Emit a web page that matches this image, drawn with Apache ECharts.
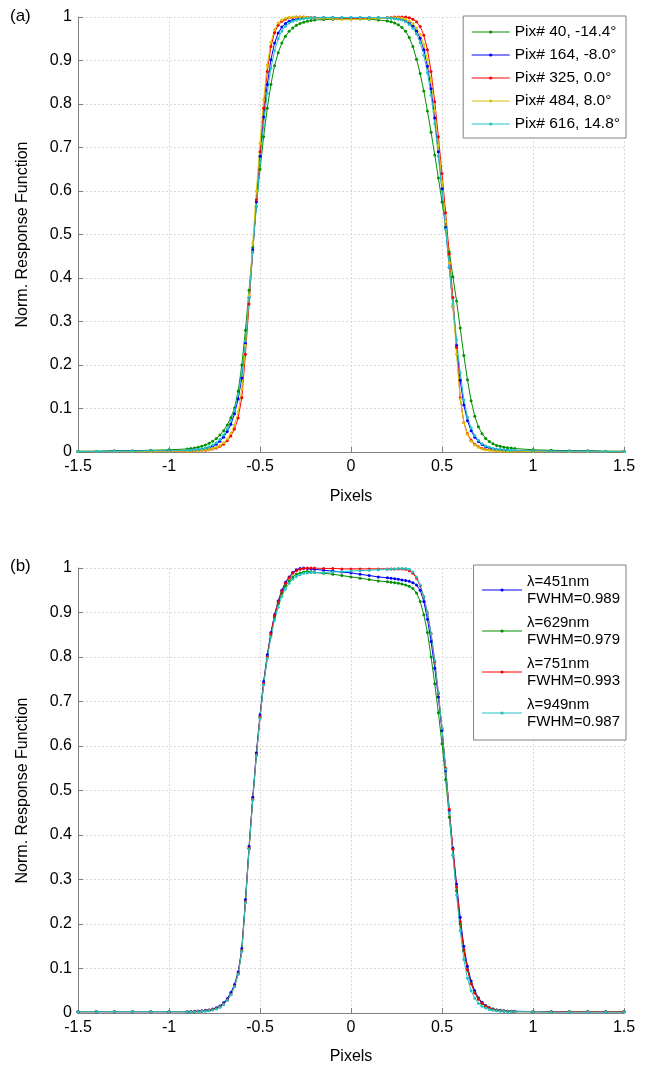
<!DOCTYPE html>
<html><head><meta charset="utf-8">
<script src="https://cdn.jsdelivr.net/npm/echarts@6/dist/echarts.min.js"></script>
<style>html,body{margin:0;padding:0;background:#fff}#c{width:646px;height:1066px}</style>
</head><body><div id="c"></div>
<script>
// x sample positions (pixels)
const xs = [-1.5,-1.4,-1.3,-1.2,-1.1,-1.0,-0.9,
 -0.88,-0.86,-0.84,-0.82,-0.80,-0.78,-0.76,-0.74,-0.72,-0.70,-0.68,-0.66,-0.64,-0.62,-0.60,-0.58,-0.56,-0.54,-0.52,-0.50,-0.48,-0.46,-0.44,-0.42,-0.40,-0.38,-0.36,-0.34,-0.32,-0.30,-0.28,-0.26,-0.24,-0.22,-0.20,
 -0.15,-0.10,-0.05,0,0.05,0.10,0.15,
 0.20,0.22,0.24,0.26,0.28,0.30,0.32,0.34,0.36,0.38,0.40,0.42,0.44,0.46,0.48,0.50,0.52,0.54,0.56,0.58,0.60,0.62,0.64,0.66,0.68,0.70,0.72,0.74,0.76,0.78,0.80,0.82,0.84,0.86,0.88,
 0.9,1.0,1.1,1.2,1.3,1.4,1.5];

// panel (a)
const aNames = ['Pix# 40, -14.4°','Pix# 164, -8.0°','Pix# 325, 0.0°','Pix# 484, 8.0°','Pix# 616, 14.8°'];
const aPix40 = [0.002,0.002,0.003,0.003,0.004,0.005,0.007,
 0.008,0.009,0.011,0.013,0.016,0.020,0.025,0.031,0.039,0.049,0.062,0.079,0.101,0.140,0.200,0.280,0.372,0.470,0.565,0.650,0.725,0.790,0.845,0.888,0.918,0.940,0.956,0.967,0.975,0.981,0.985,0.988,0.990,0.992,0.993,
 0.994,0.995,0.996,0.996,0.996,0.995,0.993,
 0.991,0.989,0.986,0.982,0.976,0.967,0.953,0.932,0.903,0.870,0.830,0.784,0.735,0.683,0.630,0.575,0.518,0.460,0.403,0.347,0.285,0.222,0.166,0.118,0.082,0.058,0.042,0.031,0.024,0.019,0.015,0.013,0.011,0.010,0.009,
 0.008,0.005,0.004,0.003,0.003,0.002,0.002];
const aPix164 = [0.001,0.001,0.002,0.002,0.002,0.003,0.003,
 0.004,0.004,0.005,0.006,0.008,0.010,0.013,0.018,0.025,0.034,0.047,0.064,0.088,0.122,0.170,0.250,0.355,0.465,0.575,0.680,0.770,0.845,0.902,0.940,0.963,0.977,0.985,0.990,0.993,0.995,0.997,0.998,0.999,0.999,0.999,
 0.999,0.999,0.998,0.998,0.998,0.998,0.998,
 0.998,0.998,0.997,0.996,0.994,0.991,0.986,0.979,0.968,0.951,0.925,0.887,0.835,0.768,0.690,0.605,0.515,0.425,0.335,0.245,0.165,0.108,0.072,0.049,0.034,0.024,0.017,0.012,0.009,0.007,0.006,0.005,0.004,0.004,0.003,
 0.003,0.002,0.002,0.002,0.002,0.001,0.001];
const aPix325 = [0.001,0.001,0.001,0.001,0.001,0.002,0.002,
 0.002,0.003,0.003,0.004,0.004,0.005,0.007,0.009,0.013,0.018,0.026,0.037,0.053,0.078,0.125,0.225,0.340,0.460,0.580,0.690,0.790,0.875,0.932,0.964,0.981,0.990,0.995,0.998,0.999,1.000,1.000,1.000,0.999,0.999,0.998,
 0.997,0.996,0.996,0.996,0.996,0.997,0.998,
 0.999,0.999,1.000,1.000,1.000,1.000,0.998,0.995,0.989,0.978,0.958,0.925,0.875,0.805,0.725,0.640,0.550,0.455,0.355,0.240,0.125,0.068,0.042,0.027,0.018,0.012,0.008,0.006,0.005,0.004,0.003,0.003,0.002,0.002,0.002,
 0.002,0.002,0.001,0.001,0.001,0.001,0.001];
const aPix484 = [0.001,0.001,0.001,0.001,0.001,0.002,0.002,
 0.002,0.003,0.003,0.004,0.005,0.006,0.008,0.011,0.015,0.021,0.030,0.043,0.062,0.092,0.145,0.245,0.360,0.480,0.600,0.710,0.810,0.890,0.942,0.971,0.986,0.993,0.997,0.999,1.000,1.000,1.000,1.000,0.999,0.999,0.998,
 0.997,0.996,0.995,0.995,0.995,0.996,0.997,
 0.998,0.998,0.998,0.998,0.997,0.995,0.991,0.985,0.975,0.960,0.937,0.902,0.852,0.785,0.705,0.620,0.530,0.435,0.335,0.225,0.122,0.068,0.040,0.025,0.016,0.011,0.007,0.005,0.004,0.003,0.003,0.002,0.002,0.002,0.002,
 0.002,0.001,0.001,0.001,0.001,0.001,0.001];
const aPix616 = [0.001,0.001,0.002,0.002,0.003,0.003,0.004,
 0.004,0.005,0.006,0.007,0.009,0.012,0.016,0.021,0.029,0.039,0.053,0.072,0.097,0.132,0.180,0.255,0.355,0.460,0.565,0.665,0.752,0.825,0.882,0.923,0.950,0.968,0.979,0.986,0.990,0.993,0.995,0.996,0.997,0.998,0.998,
 0.999,0.999,0.999,0.999,0.999,0.999,0.999,
 0.998,0.997,0.996,0.995,0.993,0.989,0.983,0.974,0.961,0.941,0.912,0.872,0.820,0.755,0.680,0.598,0.512,0.425,0.340,0.258,0.183,0.120,0.080,0.055,0.038,0.027,0.019,0.014,0.011,0.008,0.007,0.006,0.005,0.004,0.004,
 0.004,0.003,0.002,0.002,0.002,0.001,0.001];

// panel (b)
const bNames = ['λ=451nm\nFWHM=0.989','λ=629nm\nFWHM=0.979','λ=751nm\nFWHM=0.993','λ=949nm\nFWHM=0.987'];
const b451 = [0.003,0.003,0.003,0.003,0.003,0.003,0.003,
 0.003,0.004,0.004,0.005,0.006,0.007,0.009,0.012,0.016,0.023,0.032,0.046,0.064,0.092,0.145,0.255,0.375,0.485,0.585,0.670,0.745,0.805,0.855,0.895,0.926,0.950,0.968,0.980,0.990,0.996,0.999,1.000,0.999,0.998,0.997,
 0.995,0.993,0.991,0.989,0.986,0.983,0.980,
 0.978,0.977,0.976,0.975,0.973,0.972,0.970,0.967,0.962,0.950,0.925,0.885,0.835,0.775,0.710,0.635,0.545,0.455,0.370,0.290,0.215,0.150,0.105,0.072,0.050,0.034,0.024,0.017,0.012,0.009,0.007,0.006,0.005,0.004,0.004,
 0.004,0.003,0.003,0.003,0.003,0.003,0.003];
const b629 = [0.003,0.003,0.003,0.003,0.003,0.003,0.003,
 0.003,0.003,0.004,0.004,0.005,0.006,0.008,0.010,0.014,0.020,0.029,0.042,0.060,0.088,0.140,0.250,0.370,0.480,0.580,0.665,0.740,0.800,0.850,0.890,0.920,0.944,0.960,0.971,0.980,0.986,0.989,0.991,0.992,0.991,0.990,
 0.988,0.986,0.983,0.980,0.977,0.974,0.971,
 0.969,0.968,0.967,0.966,0.964,0.962,0.959,0.954,0.944,0.925,0.895,0.855,0.800,0.740,0.675,0.605,0.525,0.440,0.355,0.275,0.200,0.140,0.097,0.067,0.046,0.032,0.022,0.016,0.012,0.009,0.007,0.006,0.005,0.004,0.004,
 0.003,0.003,0.003,0.003,0.003,0.003,0.003];
const b751 = [0.003,0.003,0.003,0.003,0.003,0.003,0.003,
 0.003,0.003,0.004,0.004,0.005,0.006,0.008,0.010,0.014,0.020,0.029,0.042,0.060,0.088,0.140,0.250,0.370,0.480,0.580,0.665,0.740,0.800,0.852,0.893,0.924,0.948,0.966,0.978,0.988,0.994,0.997,0.999,1.000,1.000,1.000,
 0.999,0.999,0.998,0.998,0.998,0.998,0.998,
 0.998,0.998,0.998,0.998,0.998,0.997,0.994,0.988,0.977,0.960,0.935,0.900,0.852,0.790,0.718,0.640,0.550,0.458,0.368,0.283,0.205,0.142,0.097,0.066,0.045,0.031,0.022,0.015,0.011,0.008,0.006,0.005,0.004,0.004,0.003,
 0.003,0.003,0.003,0.003,0.003,0.003,0.003];
const b949 = [0.003,0.003,0.003,0.003,0.003,0.003,0.003,
 0.002,0.003,0.003,0.004,0.004,0.005,0.007,0.009,0.013,0.019,0.028,0.041,0.059,0.087,0.138,0.248,0.368,0.478,0.578,0.662,0.737,0.797,0.845,0.883,0.912,0.936,0.953,0.966,0.975,0.981,0.985,0.988,0.989,0.990,0.990,
 0.990,0.991,0.992,0.993,0.994,0.995,0.996,
 0.997,0.998,0.998,0.999,0.999,0.999,0.997,0.991,0.980,0.962,0.936,0.900,0.852,0.792,0.720,0.640,0.548,0.450,0.355,0.265,0.185,0.120,0.078,0.050,0.033,0.022,0.015,0.011,0.008,0.006,0.005,0.004,0.004,0.003,0.003,
 0.003,0.003,0.002,0.002,0.002,0.002,0.002];

const F = '"Liberation Sans", Arial, Helvetica, sans-serif';
const GREEN='#009000', BLUE='#0000ff', RED='#ff0000', YEL='#d8c600', CYAN='#22c4c4';

function mk(name, color, ys, gi){
  return {type:'line', name, xAxisIndex:gi, yAxisIndex:gi,
    data: xs.map((x,i)=>[x, ys[i]]),
    symbol:'circle', symbolSize:3, showSymbol:true,
    lineStyle:{width:1, color}, itemStyle:{color}, emphasis:{disabled:true}};
}
function xAx(gi, gap){
  return {type:'value', gridIndex:gi, min:-1.5, max:1.5, interval:0.5,
    name:'Pixels', nameLocation:'middle', nameGap:gap,
    nameTextStyle:{fontSize:16, color:'#000', fontFamily:F},
    axisLine:{show:true, onZero:false, lineStyle:{color:'#808080', width:1}},
    axisTick:{show:true, inside:true, length:5, lineStyle:{color:'#808080'}},
    axisLabel:{fontSize:16, color:'#000', margin:7, fontFamily:F},
    splitLine:{show:true, lineStyle:{color:'#dadada', type:[2,2], width:1}}};
}
function yAx(gi){
  return {type:'value', gridIndex:gi, min:0, max:1, interval:0.1,
    name:'Norm. Response Function', nameLocation:'middle', nameGap:47,
    nameTextStyle:{fontSize:16, color:'#000', fontFamily:F},
    axisLine:{show:true, onZero:false, lineStyle:{color:'#808080', width:1}},
    axisTick:{show:true, inside:true, length:5, lineStyle:{color:'#808080'}},
    axisLabel:{fontSize:16, color:'#000', margin:6, fontFamily:F},
    splitLine:{show:true, lineStyle:{color:'#dadada', type:[2,2], width:1}}};
}
const legendCommon = {orient:'vertical', right:20, itemHeight:4,
  borderColor:'#808080', borderWidth:1, backgroundColor:'#fff', borderRadius:0,
  lineStyle:{width:1}, selectedMode:false};

const chart = echarts.init(document.getElementById('c'), null, {renderer:'canvas'});
chart.setOption({
  animation:false,
  backgroundColor:'#fff',
  grid:[{left:78, right:22, top:17, height:435}, {left:78, right:22, top:568, height:445}],
  xAxis:[xAx(0,37), xAx(1,36)],
  yAxis:[yAx(0), yAx(1)],
  legend:[
    Object.assign({}, legendCommon, {data:aNames, top:16, itemWidth:38, itemGap:7, padding:[8,6,6,8],
      textStyle:{fontSize:15.5, color:'#000', fontFamily:F, lineHeight:16}}),
    Object.assign({}, legendCommon, {data:bNames, top:565, itemWidth:40, itemGap:7, padding:[8,6,10,8],
      textStyle:{fontSize:15, color:'#000', fontFamily:F, lineHeight:17}})
  ],
  graphic:[
    {type:'text', left:10, top:8, style:{text:'(a)', fontSize:17, fill:'#000', fontFamily:F}},
    {type:'text', left:10, top:558, style:{text:'(b)', fontSize:17, fill:'#000', fontFamily:F}}
  ],
  series:[
    mk(aNames[0], GREEN, aPix40, 0),
    mk(aNames[1], BLUE, aPix164, 0),
    mk(aNames[2], RED, aPix325, 0),
    mk(aNames[3], YEL, aPix484, 0),
    mk(aNames[4], CYAN, aPix616, 0),
    mk(bNames[0], BLUE, b451, 1),
    mk(bNames[1], GREEN, b629, 1),
    mk(bNames[2], RED, b751, 1),
    mk(bNames[3], CYAN, b949, 1)
  ]
});
</script></body></html>
